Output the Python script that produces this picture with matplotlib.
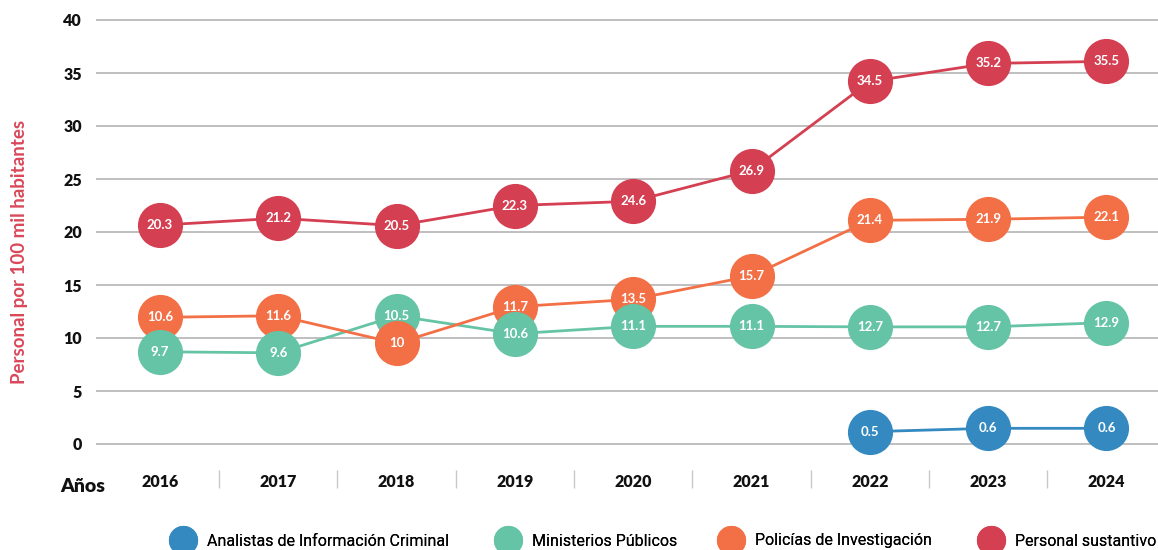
import matplotlib
matplotlib.use("Agg")
import matplotlib.pyplot as plt
from matplotlib.lines import Line2D
import numpy as np

years = ["2016", "2017", "2018", "2019", "2020", "2021", "2022", "2023", "2024"]

series_names = ["Analistas de Información Criminal", "Ministerios Públicos",
                "Policías de Investigación", "Personal sustantivo"]

# plotted positions
analistas_pos = [np.nan, np.nan, np.nan, np.nan, np.nan, np.nan, 1.16, 1.48, 1.48]
ministerios_pos = [8.7, 8.6, 12.1, 10.4, 11.1, 11.1, 11.05, 11.05, 11.45]
policias_pos = [11.95, 12.1, 9.5, 12.95, 13.65, 15.85, 21.1, 21.2, 21.4]
sustantivo_pos = [20.65, 21.3, 20.6, 22.5, 22.9, 25.8, 34.2, 35.9, 36.1]

# labels written in the circles
analistas_lbl = ["", "", "", "", "", "", "0.5", "0.6", "0.6"]
ministerios_lbl = ["9.7", "9.6", "10.5", "10.6", "11.1", "11.1", "12.7", "12.7", "12.9"]
policias_lbl = ["10.6", "11.6", "10", "11.7", "13.5", "15.7", "21.4", "21.9", "22.1"]
sustantivo_lbl = ["20.3", "21.2", "20.5", "22.3", "24.6", "26.9", "34.5", "35.2", "35.5"]

colors = ["#3389C0", "#66C4A6", "#F36F45", "#D43F52"]
yticks = [0, 5, 10, 15, 20, 25, 30, 35, 40]

W, H = 1158, 550
fig = plt.figure(figsize=(W / 100, H / 100), dpi=100)
px_per_unit = 10.6
y0_px = 444
ylo, yhi = -2.45, 41.0
ax_bottom_px = y0_px - ylo * px_per_unit
ax_top_px = y0_px - yhi * px_per_unit
left_px = 96
ax = fig.add_axes([left_px / W, (H - ax_bottom_px) / H, 1 - left_px / W,
                   (ax_bottom_px - ax_top_px) / H])

x = np.arange(len(years))
ax.set_xlim(-0.541, 8.436)
ax.set_ylim(ylo, yhi)

for s in ax.spines.values():
    s.set_visible(False)

for yt in yticks:
    ax.axhline(yt, color="#b4b4b4", lw=1.2, zorder=1)

ax.set_yticks(yticks)
ax.set_yticklabels([str(v) for v in yticks], fontsize=11.5, fontweight="heavy",
                   family="Lato", color="#111111")
ax.tick_params(axis="y", length=0, pad=10)

ax.set_xticks(x)
ax.set_xticklabels(years, fontsize=11.5, fontweight="heavy", family="Lato", color="#111111")
ax.tick_params(axis="x", which="major", length=0, pad=3)
ax.set_xticks(x[:-1] + 0.5, minor=True)
ax.tick_params(axis="x", which="minor", length=13, width=1, color="#c8c8c8", direction="out")

pos_all = [analistas_pos, ministerios_pos, policias_pos, sustantivo_pos]
lbl_all = [analistas_lbl, ministerios_lbl, policias_lbl, sustantivo_lbl]
base_z = [3, 5, 4, 6]

for k, (pos, lbl, c) in enumerate(zip(pos_all, lbl_all, colors)):
    ax.plot(x, pos, color=c, lw=2, zorder=2, solid_capstyle="round")
    for i, (xv, yv, t) in enumerate(zip(x, pos, lbl)):
        if np.isnan(yv):
            continue
        z = base_z[k]
        if k == 2 and i == 2:
            z = 5.5
        ax.plot([xv], [yv], marker="o", markersize=32.5, color=c, markeredgewidth=0,
                linestyle="", zorder=z)
        ax.text(xv, yv, t, color="white", fontsize=9.5, fontweight="bold", family="Lato",
                ha="center", va="center", zorder=z + 0.01)

fig.text(20 / W, 1 - 252 / H, "Personal por 100 mil habitantes", rotation=90,
         color="#D9485A", fontsize=13.5, fontweight="bold", family="Lato",
         ha="center", va="center")
fig.text(83 / W, 1 - 486 / H, "Años", fontsize=14, fontweight="heavy", family="Lato",
         ha="center", va="center", color="#111111")

# legend: one entry per legend, placed at the reference's circle positions
legend_centers_px = [183, 508, 731, 991]
fs = 11.5
handle_len = 1.3
for cx, name, c in zip(legend_centers_px, series_names, colors):
    h = Line2D([], [], marker="o", linestyle="", markersize=21, color=c, markeredgewidth=0)
    half_handle_px = handle_len * fs * 100 / 72 / 2
    leg = fig.legend([h], [name], loc="center left",
                     bbox_to_anchor=((cx - half_handle_px) / W, 1 - 541 / H),
                     frameon=False, prop={"family": "Roboto", "size": fs},
                     handletextpad=0.85, handlelength=handle_len, borderpad=0,
                     borderaxespad=0)
    fig.add_artist(leg)

fig.savefig("out.png", dpi=100)
